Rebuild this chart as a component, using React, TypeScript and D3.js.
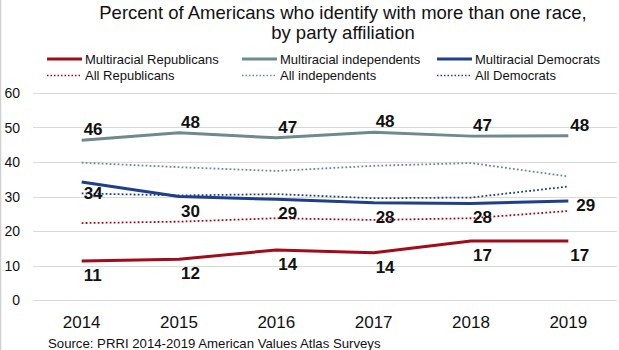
import React, { useEffect, useRef } from "react";
import * as d3 from "d3";

// data
const years = ["2014", "2015", "2016", "2017", "2018", "2019"];
const multiRep = [11.3, 11.8, 14.5, 13.7, 17.1, 17.1];
const multiInd = [46.3, 48.5, 47.0, 48.6, 47.5, 47.6];
const multiDem = [34.2, 30.0, 29.2, 28.2, 28.0, 28.7];
const allRep = [22.3, 22.7, 23.7, 23.2, 23.7, 25.8];
const allInd = [39.8, 38.5, 37.4, 38.9, 39.7, 35.8];
const allDem = [30.9, 30.3, 30.7, 29.5, 29.7, 32.9];
const labelRep = ["11", "12", "14", "14", "17", "17"];
const labelInd = ["46", "48", "47", "48", "47", "48"];
const labelDem = ["34", "30", "29", "28", "28", "29"];
const yTicks = [0, 10, 20, 30, 40, 50, 60];

const RED = "#a20b18";
const GRAY = "#6f8a8e";
const BLUE = "#1f3e8c";

const series = [
  { name: "Multiracial Republicans", values: multiRep, color: RED, dotted: false, labels: labelRep, dy: 20 },
  { name: "Multiracial independents", values: multiInd, color: GRAY, dotted: false, labels: labelInd, dy: -5 },
  { name: "Multiracial Democrats", values: multiDem, color: BLUE, dotted: false, labels: labelDem, dy: 20 },
  { name: "All Republicans", values: allRep, color: RED, dotted: true, labels: null, dy: 0 },
  { name: "All independents", values: allInd, color: GRAY, dotted: true, labels: null, dy: 0 },
  { name: "All Democrats", values: allDem, color: BLUE, dotted: true, labels: null, dy: 0 },
];

const width = 619,
  height = 350;

export default function App() {
  const svgRef = useRef<SVGSVGElement>(null);

  useEffect(() => {
    const svg = d3.select(svgRef.current);
    svg.selectAll("*").remove();
    const font = "Liberation Sans, Arial, sans-serif";

    const x = d3.scalePoint().domain(years).range([33, 617]).padding(0.5);
    const y = d3.scaleLinear().domain([0, 60]).range([300, 93]);

    // left border
    svg.append("line")
      .attr("x1", 0.5).attr("x2", 0.5).attr("y1", 0).attr("y2", height)
      .attr("stroke", "#d0d0d0").attr("stroke-width", 1.5);

    // title
    const title = svg.append("text")
      .attr("text-anchor", "middle")
      .attr("font-family", font)
      .attr("font-size", 18.5)
      .attr("fill", "#111");
    title.append("tspan").attr("x", 343).attr("y", 19).text("Percent of Americans who identify with more than one race,");
    title.append("tspan").attr("x", 343).attr("y", 39).text("by party affiliation");

    // legend
    const legendX = [47, 242, 437];
    series.forEach((s, i) => {
      const lx = legendX[i % 3];
      const ly = i < 3 ? 59 : 75.5;
      svg.append("line")
        .attr("x1", lx).attr("x2", lx + 35).attr("y1", ly).attr("y2", ly)
        .attr("stroke", s.color)
        .attr("stroke-width", s.dotted ? 1.5 : 3)
        .attr("stroke-dasharray", s.dotted ? "1.5,2" : null);
      svg.append("text")
        .attr("x", lx + 38).attr("y", ly + 4.5)
        .attr("font-family", font).attr("font-size", 13)
        .attr("fill", "#111")
        .text(s.name);
    });

    // grid + y axis labels
    const grid = svg.append("g");
    yTicks.forEach((t) => {
      grid.append("line")
        .attr("x1", 33).attr("x2", 617)
        .attr("y1", Math.round(y(t)) + 0.5).attr("y2", Math.round(y(t)) + 0.5)
        .attr("stroke", "#d9d9d9").attr("stroke-width", 1);
      grid.append("text")
        .attr("x", 20).attr("y", y(t) + 5)
        .attr("text-anchor", "end")
        .attr("font-family", font).attr("font-size", 14)
        .attr("fill", "#111")
        .text(t);
    });

    // x labels
    years.forEach((yr) => {
      svg.append("text")
        .attr("x", x(yr)!).attr("y", 328)
        .attr("text-anchor", "middle")
        .attr("font-family", font).attr("font-size", 17)
        .attr("fill", "#111")
        .text(yr);
    });

    const line = d3.line<number>()
      .x((_, i) => x(years[i])!)
      .y((d) => y(d));

    // dotted first, solid on top
    [...series].reverse().forEach((s) => {
      svg.append("path")
        .datum(s.values)
        .attr("d", line)
        .attr("fill", "none")
        .attr("stroke", s.color)
        .attr("stroke-width", s.dotted ? 1.8 : 3)
        .attr("stroke-dasharray", s.dotted ? "1.8,2.2" : null)
        .attr("stroke-linejoin", "round");
    });

    // data labels
    series.forEach((s) => {
      if (!s.labels) return;
      s.values.forEach((v, i) => {
        let dy = s.dy;
        let dx = 2;
        if (s.name === "Multiracial Democrats" && i === 0) dy = 17;
        if (s.name === "Multiracial Democrats" && i === years.length - 1) {
          dy = 10;
          dx = 8;
        }
        svg.append("text")
          .attr("x", x(years[i])! + dx)
          .attr("y", y(v) + dy)
          .attr("font-family", font).attr("font-size", 17)
          .attr("font-weight", "bold")
          .attr("fill", "#111")
          .text(s.labels![i]);
      });
    });

    // source
    svg.append("text")
      .attr("x", 48).attr("y", 348)
      .attr("font-family", font).attr("font-size", 13.2)
      .attr("fill", "#111")
      .text("Source: PRRI 2014-2019 American Values Atlas Surveys");
  }, []);

  return (
    <svg
      ref={svgRef}
      width={width}
      height={height}
      style={{ position: "absolute", left: 0, top: 0, background: "#fff" }}
    />
  );
}
